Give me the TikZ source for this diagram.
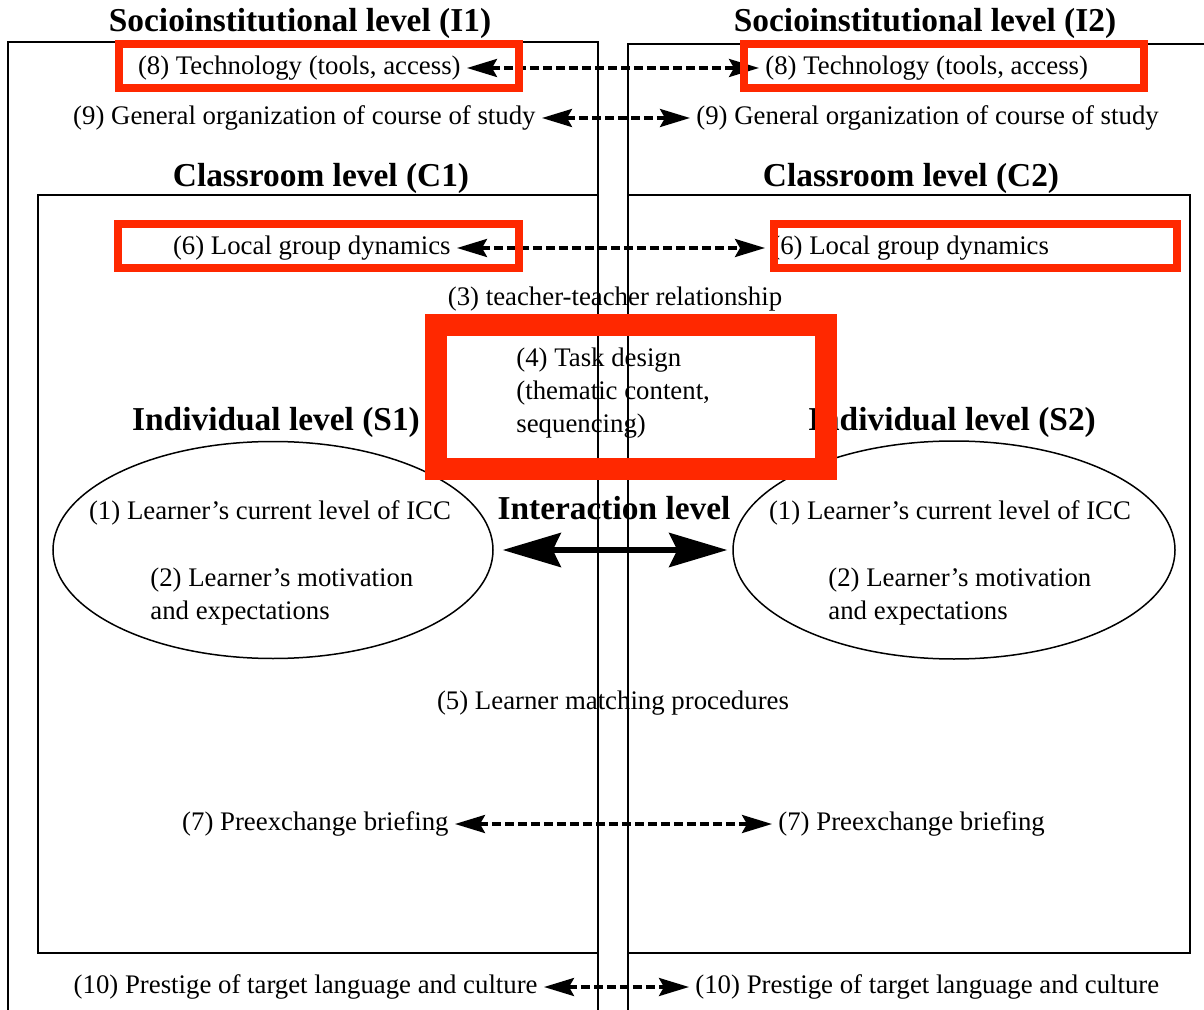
\documentclass[tikz,border=0pt]{standalone}
\usepackage{fontspec}
\setmainfont{Liberation Serif}
\usetikzlibrary{arrows.meta,shapes.geometric}
\definecolor{hlred}{RGB}{255,40,0}
\begin{document}
\begin{tikzpicture}[x=.5pt,y=-.5pt,
  txt/.style={font=\fontsize{13.4}{16.5}\selectfont,inner sep=1pt,yshift=-1pt},
  ttl/.style={font=\fontsize{16.7}{20}\selectfont\bfseries,inner sep=1pt,yshift=-1.5pt},
  link/.style={line width=1.75pt,dash pattern=on 4.5pt off 2pt,
    {Stealth[length=15pt,width=9pt,inset=2.5pt]}-{Stealth[length=15pt,width=9pt,inset=2.5pt]},
    shorten <=2pt,shorten >=2pt},
  hl/.style={draw=hlred,line width=4pt}]
\useasboundingbox (0,0) rectangle (1204,1010);
% frames
\draw[line width=1pt] (8,1010)|-(598,42)--(598,1010) (628,1010)|-(1204,44);
\draw[line width=1pt] (38,195) rectangle (598,953) (628,195) rectangle (1190,953);
\node[ttl] (i1) at (300,20) {Socioinstitutional level (I1)};
\node[ttl] (i2) at (925,20) {Socioinstitutional level (I2)};
\node[ttl] (c1) at (321,175) {Classroom level (C1)};
\node[ttl] (c2) at (911,175) {Classroom level (C2)};
% paired factors
\foreach \n/\y/\xa/\xb/\t in {tech/66/463/763/{(8) Technology (tools, access)},
  org/116/538/694/{(9) General organization of course of study},
  grp/246/453/769/{(6) Local group dynamics},
  brf/822/451/776/{(7) Preexchange briefing},
  pst/985/540/693/{(10) Prestige of target language and culture}}{
  \node[txt,anchor=east] (\n1) at (\xa,\y) {\t};
  \node[txt,anchor=west] (\n2) at (\xb,\y) {\t};
  \draw[link] (\n1) -- (\n2);
}
\node[txt] (tt) at (615,297) {(3) teacher-teacher relationship};
\node[txt,anchor=west,align=left] (task) at (514,391) {(4) Task design\\(thematic content,\\sequencing)};
\node[ttl] (s1) at (276,419) {Individual level (S1)};
\node[ttl] (s2) at (952,419) {Individual level (S2)};
\node[ttl] (il) at (614,505) {Interaction level};
% individuals
\node[draw,ellipse,line width=.75pt,minimum width=220pt,minimum height=108.5pt] (e1) at (273,550) {};
\node[draw,ellipse,line width=.75pt,minimum width=221pt,minimum height=109pt] (e2) at (954,550) {};
\node[txt] (icc1) at (270,511) {(1) Learner's current level of ICC};
\node[txt] (icc2) at (950,511) {(1) Learner's current level of ICC};
\node[txt,anchor=west,align=left] (mot1) at (148,595) {(2) Learner's motivation\\and expectations};
\node[txt,anchor=west,align=left] (mot2) at (826,595) {(2) Learner's motivation\\and expectations};
\draw[line width=3pt,{Stealth[length=29pt,width=17pt,inset=4pt]}-{Stealth[length=29pt,width=17pt,inset=4pt]},
  shorten <=4.5pt,shorten >=2.5pt] (e1.east) -- (e2.west);
\node[txt] (lm) at (613,701) {(5) Learner matching procedures};
% highlights
\draw[hl] (119,44) rectangle (519,88) (744,44) rectangle (1144,88);
\draw[hl] (118,224) rectangle (519,268) (774,224) rectangle (1177,268);
\draw[hl,line width=11pt] (435.5,325.5) rectangle (825.5,469);
\end{tikzpicture}
\end{document}
